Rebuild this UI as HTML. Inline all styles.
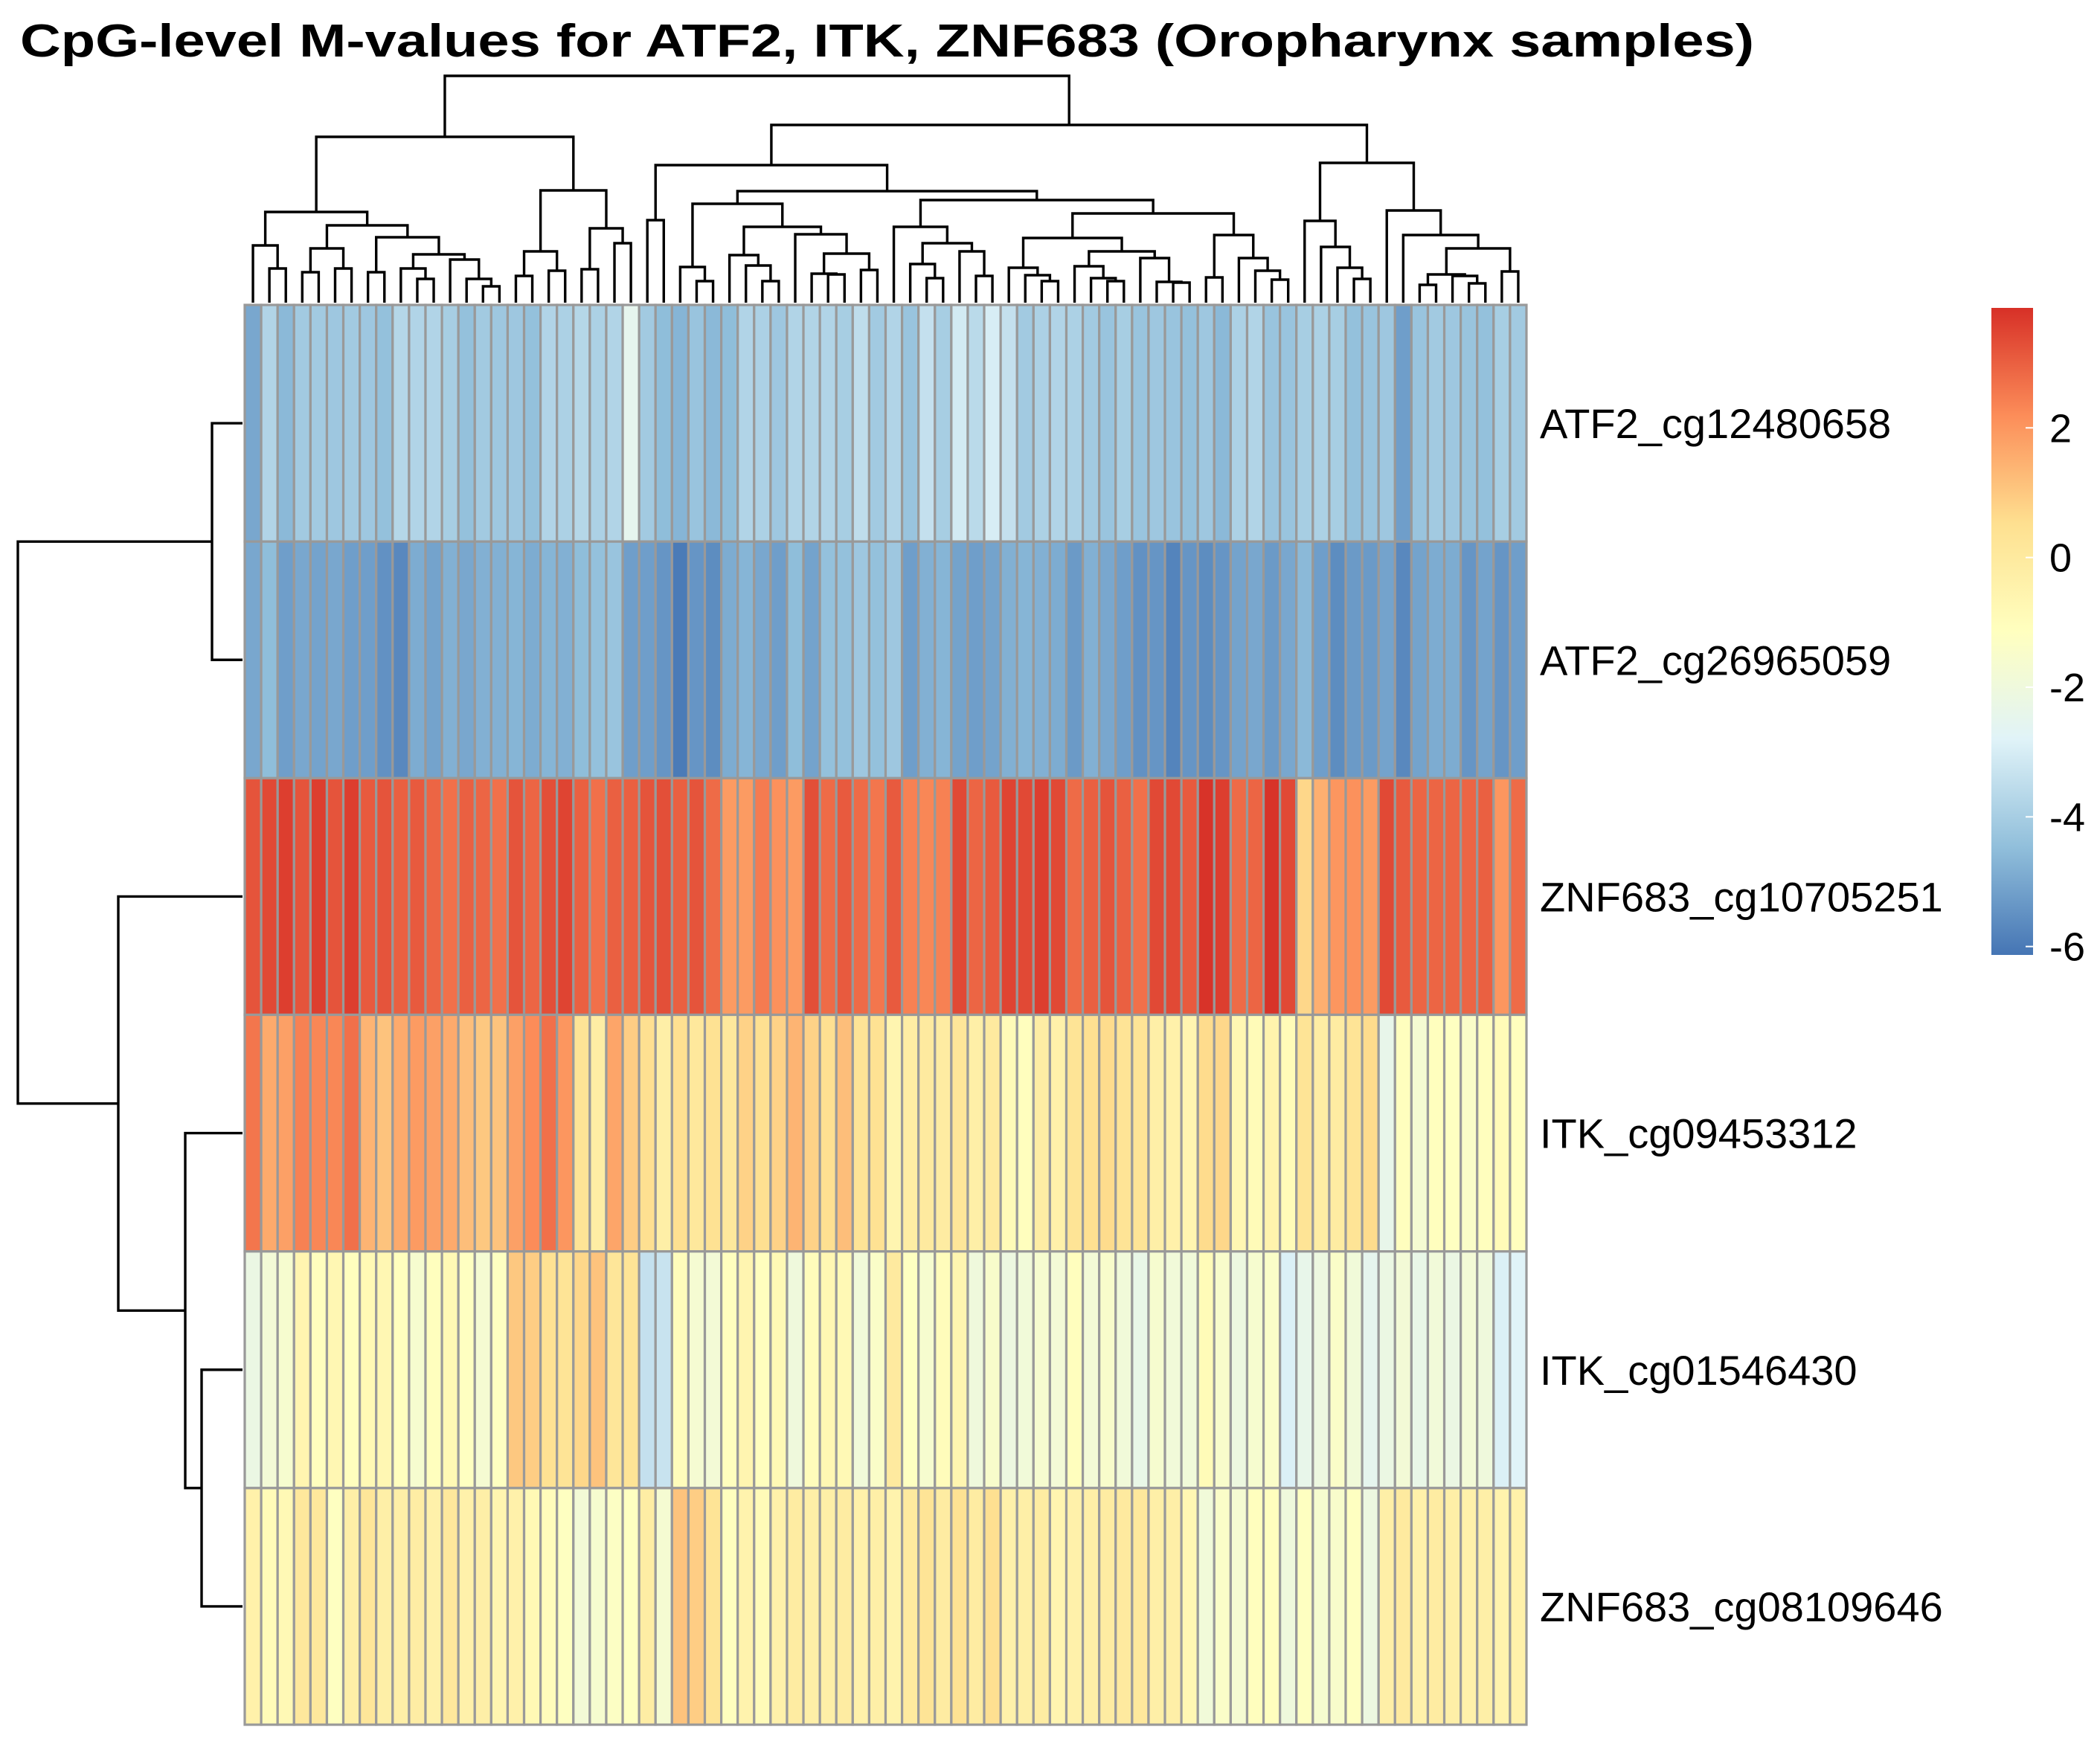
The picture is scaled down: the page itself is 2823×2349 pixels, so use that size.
<!DOCTYPE html>
<html><head><meta charset="utf-8"><title>CpG-level M-values heatmap</title>
<style>html,body{margin:0;padding:0;background:#fff;}svg{display:block;}</style></head>
<body>
<svg id="chart" xmlns="http://www.w3.org/2000/svg" width="2823" height="2349" viewBox="0 0 2823 2349" font-family="'Liberation Sans', Arial, sans-serif">
<rect x="0" y="0" width="2823" height="2349" fill="#fff"/>
<text x="27" y="76" font-size="62" font-weight="bold" fill="#000" textLength="2331" lengthAdjust="spacingAndGlyphs">CpG-level M-values for ATF2, ITK, ZNF683 (Oropharynx samples)</text>
<g id="cells"></g>
<g id="coldend"></g>
<g id="rowdend"></g>
<g id="rowlabels"></g>
<defs><linearGradient id="lg" x1="0" y1="1" x2="0" y2="0">
<stop offset="0" stop-color="#4575B4"/><stop offset="0.1667" stop-color="#91BFDB"/><stop offset="0.3333" stop-color="#E0F3F8"/><stop offset="0.5" stop-color="#FFFFBF"/><stop offset="0.6667" stop-color="#FEE090"/><stop offset="0.8333" stop-color="#FC8D59"/><stop offset="1" stop-color="#D73027"/></linearGradient></defs>
<g id="legend"></g>
</svg>
<script>
const rowNames = ["ATF2_cg12480658","ATF2_cg26965059","ZNF683_cg10705251","ITK_cg09453312","ITK_cg01546430","ZNF683_cg08109646"];
const rowATF2a = [-5.0,-3.8,-4.6,-4.1,-4.1,-4.2,-4.1,-4.2,-4.4,-3.7,-3.8,-3.8,-4.0,-4.4,-4.1,-4.2,-4.2,-4.4,-3.8,-3.9,-3.7,-3.9,-3.8,-2.5,-4.1,-4.5,-4.7,-4.3,-4.6,-4.5,-3.8,-3.9,-4.2,-3.8,-3.8,-3.8,-4.0,-3.5,-4.1,
 -3.8,-4.3,-3.4,-4.0,-3.1,-3.6,-3.0,-3.4,-4.1,-3.9,-3.8,-3.9,-4.1,-4.3,-4.0,-4.3,-4.2,-4.3,-4.4,-4.2,-4.6,-3.9,-3.8,-4.3,-4.3,-4.0,-3.9,-4.0,-4.4,-4.3,-4.2,-5.2,-4.3,-4.1,-4.2,-4.3,-4.4,-4.0,-4.1];
const rowATF2b = [-5.0,-4.5,-5.2,-5.0,-5.1,-5.0,-5.2,-5.2,-5.5,-5.7,-4.9,-5.1,-4.8,-5.0,-4.8,-4.8,-4.7,-4.9,-4.7,-4.8,-4.5,-4.4,-4.3,-5.2,-5.2,-5.4,-6.0,-5.4,-5.6,-4.9,-4.7,-5.0,-5.2,-4.5,-5.1,-4.4,-4.4,-4.2,-4.4,
 -4.2,-5.2,-4.8,-4.7,-5.1,-5.2,-5.1,-4.8,-4.7,-4.8,-4.9,-5.3,-4.8,-5.0,-5.2,-5.5,-5.4,-5.8,-5.4,-5.6,-5.4,-5.1,-5.0,-5.3,-5.0,-4.6,-5.2,-5.6,-5.3,-5.3,-5.1,-5.7,-5.1,-4.9,-4.9,-5.4,-5.1,-5.4,-5.2];
const rowZNFa = [3.2,3.4,3.6,3.2,3.6,3.2,3.6,3.1,3.2,3.0,3.1,2.9,2.7,3.0,2.9,2.7,3.2,2.9,3.3,3.5,3.0,2.7,3.0,3.0,3.2,3.3,3.0,3.2,2.8,1.9,1.9,2.5,2.1,1.9,3.3,2.8,3.1,2.8,2.6,
 3.1,2.4,2.3,2.4,3.4,2.9,3.1,3.5,3.4,3.6,3.4,2.8,3.0,3.2,3.0,2.7,3.4,3.4,3.1,3.8,3.6,2.8,2.9,3.8,3.4,0.7,1.5,2.0,2.1,1.9,3.4,3.1,2.9,2.9,2.9,2.9,3.0,2.0,2.8];
const rowITKa = [2.6,1.6,1.8,2.4,2.3,2.3,2.7,1.4,1.1,1.6,1.9,1.8,1.6,1.2,1.0,1.1,1.8,2.2,2.7,2.0,0.3,-0.2,1.7,0.9,0.5,-0.3,0.5,0.1,0.4,0.1,0.8,0.5,0.8,1.4,0.8,0.5,1.2,0.3,0.4,
 -0.6,-0.2,0.0,-0.1,0.2,-0.3,0.0,-0.9,-1.1,-0.2,-0.4,0.3,0.5,0.6,0.3,0.3,-0.3,-0.4,-0.6,0.6,0.7,-0.7,-0.9,-0.5,-0.9,0.3,-0.2,-0.1,0.3,0.6,-2.4,-1.1,-1.7,-1.1,-1.2,-1.4,-1.1,-0.9,-1.1];
const rowITKb = [-2.2,-1.8,-1.6,-0.6,-1.1,-0.7,-1.1,-0.8,-0.7,-1.1,-1.6,-1.1,-0.8,-1.2,-1.7,-1.2,1.0,0.9,0.4,0.3,0.7,1.1,0.2,0.3,-3.4,-3.3,-1.0,-1.7,-1.8,-1.1,-0.6,-1.1,-0.8,-2.0,-1.0,-0.7,-0.8,-1.9,-1.4,
 0.0,-1.2,-1.6,-1.0,-0.6,-2.0,-1.5,-2.1,-1.9,-1.6,-1.8,-1.1,-1.8,-1.5,-1.9,-2.3,-1.6,-1.9,-1.9,-0.9,-1.5,-2.1,-1.6,-1.4,-2.9,-2.4,-2.1,-1.4,-1.9,-2.5,-2.2,-1.8,-2.3,-1.9,-2.2,-1.8,-2.0,-2.9,-2.8];
const rowZNFb = [-0.4,-0.9,-0.8,0.1,0.1,-1.2,-0.3,0.2,-0.3,-0.3,-0.2,-0.4,0.1,-0.4,-0.3,-0.6,-0.4,-0.8,-1.0,-1.2,-1.8,-1.6,-1.3,-1.2,-0.2,-1.7,1.1,0.9,0.3,-1.1,-0.5,-0.9,-0.4,-0.1,-0.3,-0.3,-0.1,-0.4,-0.3,
 -0.5,0.0,0.3,-0.1,0.4,-0.1,0.5,-0.4,-0.3,-0.1,-0.6,-0.4,-0.3,-0.1,0.0,0.1,-0.3,-0.3,-0.7,-1.9,-1.4,-1.7,-1.1,-1.1,-2.0,-1.2,-1.6,-1.5,-1.2,-2.1,-0.3,0.0,-0.4,-0.1,-0.3,-0.4,-0.3,-0.5,-0.4];
const matrix = [rowATF2a,rowATF2b,rowZNFa,rowITKa,rowITKb,rowZNFb];
const legendTicks = [2,0,-2,-4,-6];
const vMin = -6.13, vMax = 3.85;
// dendrogram merge heights: [height, left, right], 0 = leaf
const colTree = [305,
  [223,
    [122,[77,0,[46,0,0]],[104,[73,[41,0,0],[46,0,0]],[88,[41,0,0],[65,[46,0,[32,0,0]],[58,0,[32,0,[22,0,0]]]]]]],
    [151,[69,[36,0,0],[43,0,0]],[100,[45,0,0],[80,0,0]]]],
  [239,
    [185,[111,0,0],
      [150,
        [133,[48,0,[29,0,0]],[102,[64,0,[50,0,[29,0,0]]],[92,0,[66,[39,0,[38,0,0]],[44,0,0]]]]],
        [138,
          [102,0,[80,[52,0,[33,0,0]],[69,0,[36,0,0]]]],
          [120,
            [87,[47,0,[37,0,[29,0,0]]],[69,[49,0,[33,0,[29,0,0]]],[60,0,[28,0,[27,0,0]]]]],
            [91,[34,0,0],[60,0,[43,0,[31,0,0]]]]]]]],
    [188,[110,0,[75,0,[47,0,[32,0,0]]]],[124,0,[91,0,[73,[38,[24,0,0],[36,0,[26,0,0]]],[42,0,0]]]]]]];
const rowTree = [302,[41,0,0],[167,0,[77,0,[55,0,0]]]];

const NS="http://www.w3.org/2000/svg";
const X0=329, X1=2052, Y0=410, Y1=2319;
const nCol=matrix[0].length, nRow=matrix.length;
const cw=(X1-X0)/nCol, rh=(Y1-Y0)/nRow;
const stops=[[0x45,0x75,0xB4],[0x91,0xBF,0xDB],[0xE0,0xF3,0xF8],[0xFF,0xFF,0xBF],[0xFE,0xE0,0x90],[0xFC,0x8D,0x59],[0xD7,0x30,0x27]];
function color(v){let t=(v-vMin)/(vMax-vMin);t=Math.max(0,Math.min(1,t))*(stops.length-1);const i=Math.min(stops.length-2,Math.floor(t)),f=t-i;const c=stops[i].map((a,k)=>Math.round(a+(stops[i+1][k]-a)*f));return `rgb(${c[0]},${c[1]},${c[2]})`;}
function xCol(i){return X0+i*cw;}
function yRow(j){return Y0+j*rh;}
function mk(tag,attrs,parent){const e=document.createElementNS(NS,tag);for(const k in attrs)e.setAttribute(k,attrs[k]);parent.appendChild(e);return e;}

const cells=document.getElementById('cells');
for(let j=0;j<nRow;j++){for(let i=0;i<nCol;i++){
  const r=mk('rect',{x:xCol(i),y:yRow(j),width:cw,height:rh,fill:color(matrix[j][i]),stroke:'#999999','stroke-width':3.2},cells);
  
  
}}

const rl=document.getElementById('rowlabels');
rowNames.forEach((n,j)=>{
  const t=mk('text',{x:2070,y:yRow(j)+rh/2+20,'font-size':56,fill:'#000'},rl);
  t.textContent=n;
  
  
});

const cd=document.getElementById('coldend');
let leafIdx=0;
function hY(h){return Y0-3-h;}
function drawCol(node){
  if(node===0){const p=xCol(leafIdx)+cw/2;leafIdx++;return {p:p,h:0};}
  const a=drawCol(node[1]),b=drawCol(node[2]);const y=hY(node[0]);
  const path=mk('path',{d:`M${a.p},${hY(a.h)}V${y}H${b.p}V${hY(b.h)}`,fill:'none',stroke:'#000','stroke-width':3.4},cd);
  
  
  return {p:(a.p+b.p)/2,h:node[0]};
}
drawCol(colTree);

const rd=document.getElementById('rowdend');
let rowLeaf=0;
function hX(h){return X0-3-h;}
function drawRow(node){
  if(node===0){const p=yRow(rowLeaf)+rh/2;rowLeaf++;return {p:p,h:0};}
  const a=drawRow(node[1]),b=drawRow(node[2]);const x=hX(node[0]);
  const path=mk('path',{d:`M${hX(a.h)},${a.p}H${x}V${b.p}H${hX(b.h)}`,fill:'none',stroke:'#000','stroke-width':3.4},rd);
  
  
  return {p:(a.p+b.p)/2,h:node[0]};
}
drawRow(rowTree);

const lg=document.getElementById('legend');
const LX=2677, LW=56, LT=414, LB=1284;
function lY(v){return LB-(v-vMin)/(vMax-vMin)*(LB-LT);}
const bar=mk('rect',{x:LX,y:LT,width:LW,height:LB-LT,fill:'url(#lg)'},lg);


legendTicks.forEach(v=>{
  const y=lY(v);
  const tk=mk('line',{x1:LX+LW-10,x2:LX+LW,y1:y,y2:y,stroke:'#fff','stroke-width':2},lg);
  
  
  const t=mk('text',{x:2755,y:y+19,'font-size':54,fill:'#000'},lg);
  t.textContent=String(v);
  
  
});
</script>
</body></html>
